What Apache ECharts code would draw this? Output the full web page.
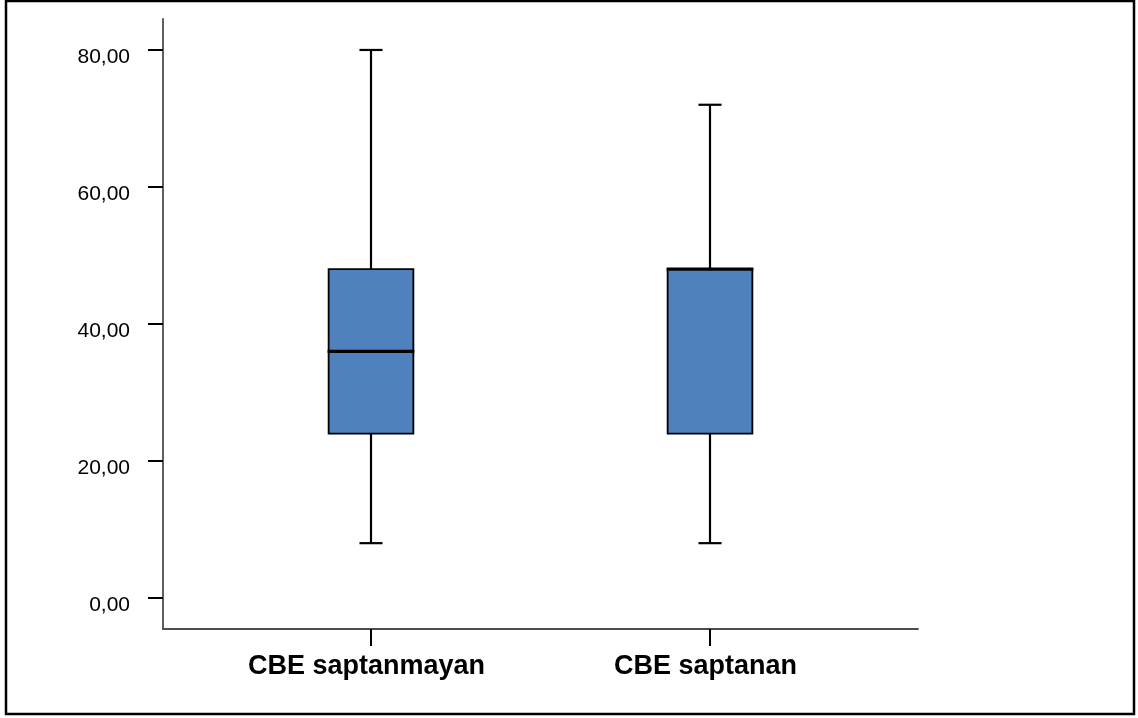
<!DOCTYPE html>
<html>
<head>
<meta charset="utf-8">
<script src="https://cdn.jsdelivr.net/npm/echarts@6/dist/echarts.min.js"></script>
<style>
html,body{margin:0;padding:0;background:#fff;}
#chart{width:1138px;height:718px;}
</style>
</head>
<body>
<div id="chart"></div>
<script>
const categories = ['CBE saptanmayan', 'CBE saptanan'];
const whiskerLow = [8, 8];
const q1 = [24, 24];
const median = [36, 48];
const q3 = [48, 48];
const whiskerHigh = [80, 72];
const yTicks = [0, 20, 40, 60, 80];

const boxData = categories.map((c, i) => [i, whiskerLow[i], q1[i], median[i], q3[i], whiskerHigh[i]]);

const FONT = '"Liberation Sans", Arial, sans-serif';
const yMin = -4.53, yMax = 84.52;

const chart = echarts.init(document.getElementById('chart'), null, {renderer: 'canvas'});

function renderBox(params, api) {
  const x = api.value(0);
  const lo = api.coord([x, api.value(1)]);
  const b1 = api.coord([x, api.value(2)]);
  const md = api.coord([x, api.value(3)]);
  const b3 = api.coord([x, api.value(4)]);
  const hi = api.coord([x, api.value(5)]);
  const band = api.size([1, 0])[0];
  const bw = band * 0.25;
  const cw = band * 0.068;
  const cx = lo[0];
  const wStyle = {stroke: '#000', lineWidth: 2.2};
  return {
    type: 'group',
    children: [
      {type: 'line', shape: {x1: cx, y1: hi[1], x2: cx, y2: b3[1]}, style: wStyle},
      {type: 'line', shape: {x1: cx, y1: b1[1], x2: cx, y2: lo[1]}, style: wStyle},
      {type: 'line', shape: {x1: cx - cw / 2, y1: hi[1], x2: cx + cw / 2, y2: hi[1]}, style: wStyle},
      {type: 'line', shape: {x1: cx - cw / 2, y1: lo[1], x2: cx + cw / 2, y2: lo[1]}, style: wStyle},
      {type: 'rect', shape: {x: cx - bw / 2, y: b3[1], width: bw, height: b1[1] - b3[1]},
        style: {fill: '#4F81BD', stroke: '#000', lineWidth: 1.8}},
      {type: 'line', shape: {x1: cx - bw / 2 - 1, y1: md[1], x2: cx + bw / 2 + 1, y2: md[1]},
        style: {stroke: '#000', lineWidth: 3.4}}
    ]
  };
}

const option = {
  backgroundColor: '#fff',
  animation: false,
  graphic: [{
    type: 'rect', silent: true,
    shape: {x: 6, y: 1, width: 1128, height: 713},
    style: {fill: 'none', stroke: '#000', lineWidth: 2.5}
  }],
  grid: [
    {left: 163, right: 220, top: 19, bottom: 89},
    {left: 371, right: 428, top: 19, bottom: 89}
  ],
  xAxis: [
    {
      gridIndex: 0, type: 'value', min: 0, max: 1,
      axisLine: {show: true, onZero: false, lineStyle: {color: '#4d4d4d', width: 1.8}},
      axisTick: {show: false}, axisLabel: {show: false}, splitLine: {show: false}
    },
    {
      gridIndex: 1, type: 'category', data: categories, boundaryGap: false,
      axisLine: {show: false, onZero: false},
      axisTick: {show: true, length: 17, lineStyle: {color: '#000', width: 2}},
      axisLabel: {color: '#000', fontFamily: FONT, fontSize: 27, fontWeight: 'bold', margin: 24,
        padding: [0, 9, 0, 0]},
      splitLine: {show: false}
    }
  ],
  yAxis: [
    {
      gridIndex: 0, type: 'value', min: yMin, max: yMax,
      axisLine: {show: true, onZero: false, lineStyle: {color: '#4d4d4d', width: 1.8}},
      axisTick: {show: true, length: 15, customValues: yTicks, lineStyle: {color: '#000', width: 2}},
      axisLabel: {
        show: true, customValues: yTicks, color: '#000', fontFamily: FONT, fontSize: 21, margin: 33,
        verticalAlign: 'top', lineHeight: 15,
        formatter: v => v.toFixed(2).replace('.', ',')
      },
      splitLine: {show: false}
    },
    {
      gridIndex: 1, type: 'value', min: yMin, max: yMax,
      axisLine: {show: false, onZero: false}, axisTick: {show: false}, axisLabel: {show: false}, splitLine: {show: false}
    }
  ],
  series: [{
    type: 'custom',
    xAxisIndex: 1, yAxisIndex: 1,
    renderItem: renderBox,
    encode: {x: 0, y: [1, 2, 3, 4, 5]},
    data: boxData,
    clip: false
  }]
};
chart.setOption(option);
</script>
</body>
</html>
